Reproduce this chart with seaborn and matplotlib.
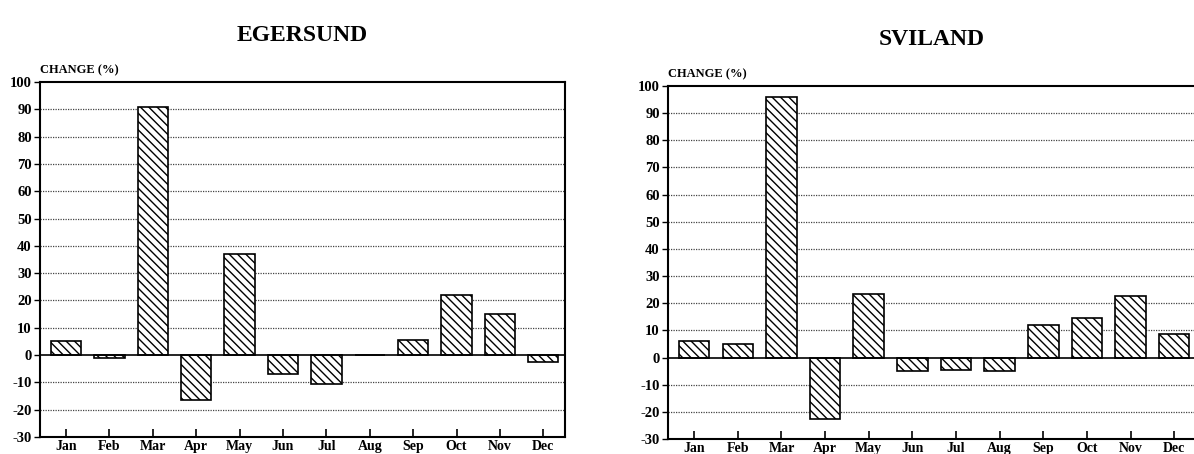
import matplotlib
matplotlib.use("Agg")
import matplotlib.pyplot as plt
import seaborn as sns
import pandas as pd

months = ["Jan", "Feb", "Mar", "Apr", "May", "Jun", "Jul", "Aug", "Sep", "Oct", "Nov", "Dec"]
egersund = [5, -1, 91, -16.5, 37, -7, -10.5, 0, 5.5, 22, 15, -2.5]
sviland = [6, 5, 96, -22.5, 23.5, -5, -4.5, -5, 12, 14.5, 22.5, 8.5]
yticks = list(range(-30, 101, 10))

sns.set_theme(style="white")
plt.rcParams["font.family"] = ["Liberation Serif", "DejaVu Serif"]
plt.rcParams["hatch.linewidth"] = 1.0
plt.rcParams["text.color"] = "black"
plt.rcParams["xtick.color"] = "black"
plt.rcParams["ytick.color"] = "black"

fig = plt.figure(figsize=(11.94, 4.54), dpi=100)


def draw_panel(rect, values, title, title_y):
    ax = fig.add_axes(rect)
    df = pd.DataFrame({"Month": months, "Change": values})
    sns.barplot(data=df, x="Month", y="Change", color="white", edgecolor="black",
                linewidth=1.2, width=0.7, saturation=1, ax=ax)
    for p in ax.patches:
        p.set_hatch("\\\\\\\\")
    ax.set_ylim(-30, 100)
    ax.set_xlim(-0.6, 11.5)
    ax.set_yticks(yticks)
    ax.set_yticklabels([str(t) for t in yticks], fontsize=10.5, fontweight="bold")
    ax.set_xticklabels(months, fontsize=10, fontweight="bold")
    for t in yticks[1:-1]:
        if t != 0:
            ax.axhline(t, color="#444444", linestyle=(0, (1, 1)), linewidth=0.9, zorder=0)
    ax.axhline(0, color="black", linewidth=1.2, zorder=3)
    ax.tick_params(axis="x", direction="in", length=6, width=1.2, pad=2, bottom=True)
    ax.tick_params(axis="y", direction="out", length=4, width=1, pad=2, left=True)
    for s in ax.spines.values():
        s.set_color("black")
        s.set_linewidth(1.5)
    ax.set_xlabel("")
    ax.set_ylabel("")
    ax.text(0.0, 1.015, "CHANGE (%)", transform=ax.transAxes, fontsize=9,
            fontweight="bold", ha="left", va="bottom")
    cx = rect[0] + rect[2] / 2
    fig.text(cx, title_y, title, fontsize=17, fontweight="bold", ha="center", va="center")
    return ax


draw_panel([0.0335, 0.0374, 0.4397, 0.7819], egersund, "EGERSUND", 0.922)
draw_panel([0.5595, 0.0330, 0.4422, 0.7775], sviland, "SVILAND", 0.912)

fig.savefig("out.png", dpi=100, facecolor="white")
